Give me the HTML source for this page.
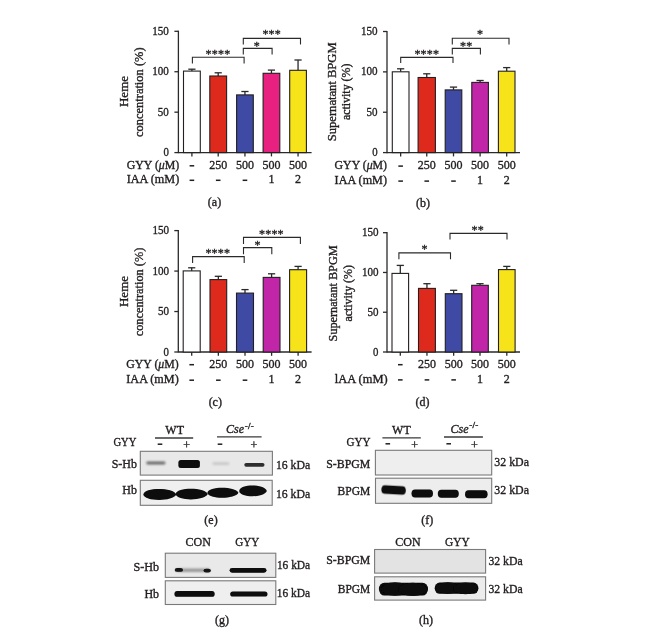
<!DOCTYPE html>
<html><head><meta charset="utf-8"><style>html,body{margin:0;padding:0;background:#fff;-webkit-font-smoothing:antialiased;width:649px;height:638px;overflow:hidden;position:relative}</style></head>
<body><div style="position:absolute;left:0;top:0;width:649px;height:638px;transform:translateZ(0)">
<svg width="649" height="638" viewBox="0 0 649 638" style="position:absolute;left:0;top:0;font-family:'Liberation Serif', serif">
<defs><filter id="bl" x="-30%" y="-80%" width="160%" height="260%"><feGaussianBlur stdDeviation="1.0"/></filter><filter id="bl2" x="-30%" y="-80%" width="160%" height="260%"><feGaussianBlur stdDeviation="0.6"/></filter></defs>
<line x1="178.40" y1="30.70" x2="178.40" y2="153.20" stroke="#2a2a2a" stroke-width="1.3"/>
<line x1="174.40" y1="152.60" x2="178.40" y2="152.60" stroke="#2a2a2a" stroke-width="1.3"/>
<text x="168.80" y="156.10" font-size="12" text-anchor="end" fill="#231f20" stroke="#231f20" stroke-width="0.35" textLength="5.4" lengthAdjust="spacingAndGlyphs">0</text>
<line x1="174.40" y1="112.17" x2="178.40" y2="112.17" stroke="#2a2a2a" stroke-width="1.3"/>
<text x="168.80" y="115.67" font-size="12" text-anchor="end" fill="#231f20" stroke="#231f20" stroke-width="0.35" textLength="11" lengthAdjust="spacingAndGlyphs">50</text>
<line x1="174.40" y1="71.73" x2="178.40" y2="71.73" stroke="#2a2a2a" stroke-width="1.3"/>
<text x="168.80" y="75.23" font-size="12" text-anchor="end" fill="#231f20" stroke="#231f20" stroke-width="0.35" textLength="16.6" lengthAdjust="spacingAndGlyphs">100</text>
<line x1="174.40" y1="31.30" x2="178.40" y2="31.30" stroke="#2a2a2a" stroke-width="1.3"/>
<text x="168.80" y="34.80" font-size="12" text-anchor="end" fill="#231f20" stroke="#231f20" stroke-width="0.35" textLength="16.6" lengthAdjust="spacingAndGlyphs">150</text>
<line x1="178.40" y1="152.60" x2="311.60" y2="152.60" stroke="#2a2a2a" stroke-width="1.3"/>
<line x1="191.90" y1="69.20" x2="191.90" y2="71.10" stroke="#2a2a2a" stroke-width="1.3"/>
<line x1="188.30" y1="69.20" x2="195.50" y2="69.20" stroke="#2a2a2a" stroke-width="1.3"/>
<rect x="183.50" y="71.10" width="16.80" height="81.50" fill="#ffffff" stroke="#231f20" stroke-width="1.1"/>
<line x1="191.90" y1="152.60" x2="191.90" y2="156.40" stroke="#2a2a2a" stroke-width="1.3"/>
<line x1="218.20" y1="72.80" x2="218.20" y2="76.00" stroke="#2a2a2a" stroke-width="1.3"/>
<line x1="214.60" y1="72.80" x2="221.80" y2="72.80" stroke="#2a2a2a" stroke-width="1.3"/>
<rect x="209.80" y="76.00" width="16.80" height="76.60" fill="#de2a1c" stroke="#231f20" stroke-width="1.1"/>
<line x1="218.20" y1="152.60" x2="218.20" y2="156.40" stroke="#2a2a2a" stroke-width="1.3"/>
<line x1="244.95" y1="91.50" x2="244.95" y2="94.90" stroke="#2a2a2a" stroke-width="1.3"/>
<line x1="241.35" y1="91.50" x2="248.55" y2="91.50" stroke="#2a2a2a" stroke-width="1.3"/>
<rect x="236.60" y="94.90" width="16.70" height="57.70" fill="#3e4aa3" stroke="#231f20" stroke-width="1.1"/>
<line x1="244.95" y1="152.60" x2="244.95" y2="156.40" stroke="#2a2a2a" stroke-width="1.3"/>
<line x1="271.45" y1="70.10" x2="271.45" y2="73.30" stroke="#2a2a2a" stroke-width="1.3"/>
<line x1="267.85" y1="70.10" x2="275.05" y2="70.10" stroke="#2a2a2a" stroke-width="1.3"/>
<rect x="263.10" y="73.30" width="16.70" height="79.30" fill="#e8207f" stroke="#231f20" stroke-width="1.1"/>
<line x1="271.45" y1="152.60" x2="271.45" y2="156.40" stroke="#2a2a2a" stroke-width="1.3"/>
<line x1="298.05" y1="60.00" x2="298.05" y2="70.30" stroke="#2a2a2a" stroke-width="1.3"/>
<line x1="294.45" y1="60.00" x2="301.65" y2="60.00" stroke="#2a2a2a" stroke-width="1.3"/>
<rect x="289.70" y="70.30" width="16.70" height="82.30" fill="#f6e31a" stroke="#231f20" stroke-width="1.1"/>
<line x1="298.05" y1="152.60" x2="298.05" y2="156.40" stroke="#2a2a2a" stroke-width="1.3"/>
<path d="M192.4 63.6 V57.3 H244.1 V63.6" fill="none" stroke="#2a2a2a" stroke-width="1.1"/>
<text x="218.00" y="57.80" font-size="12" text-anchor="middle" fill="#231f20" stroke="#231f20" stroke-width="0.35" style="letter-spacing:0.2px">****</text>
<path d="M243.3 54.5 V48.4 H272.1 V54.5" fill="none" stroke="#2a2a2a" stroke-width="1.1"/>
<text x="256.80" y="49.80" font-size="12" text-anchor="middle" fill="#231f20" stroke="#231f20" stroke-width="0.35" style="letter-spacing:0.2px">*</text>
<path d="M243.3 44.6 V38.4 H300.5 V44.6" fill="none" stroke="#2a2a2a" stroke-width="1.1"/>
<text x="271.70" y="37.90" font-size="12" text-anchor="middle" fill="#231f20" stroke="#231f20" stroke-width="0.35" style="letter-spacing:0.2px">***</text>
<text x="128.00" y="91.50" font-size="13" text-anchor="middle" fill="#231f20" stroke="#231f20" stroke-width="0.35" transform="rotate(-90 128.00 91.50)">Heme</text>
<text x="143.00" y="92.20" font-size="12.5" text-anchor="middle" fill="#231f20" stroke="#231f20" stroke-width="0.35" textLength="89.5" lengthAdjust="spacingAndGlyphs" transform="rotate(-90 143.00 92.20)">concentration (%)</text>
<text x="126.70" y="168.60" font-size="12" text-anchor="start" fill="#231f20" stroke="#231f20" stroke-width="0.35" textLength="52.6" lengthAdjust="spacingAndGlyphs">GYY (<tspan font-style="italic">μ</tspan>M)</text>
<text x="126.70" y="183.20" font-size="12" text-anchor="start" fill="#231f20" stroke="#231f20" stroke-width="0.35" textLength="52.6" lengthAdjust="spacingAndGlyphs">IAA (mM)</text>
<rect x="189.60" y="165.05" width="4.6" height="1.5" fill="#231f20"/>
<text x="218.20" y="168.60" font-size="12" text-anchor="middle" fill="#231f20" stroke="#231f20" stroke-width="0.35">250</text>
<text x="244.95" y="168.60" font-size="12" text-anchor="middle" fill="#231f20" stroke="#231f20" stroke-width="0.35">500</text>
<text x="271.45" y="168.60" font-size="12" text-anchor="middle" fill="#231f20" stroke="#231f20" stroke-width="0.35">500</text>
<text x="298.05" y="168.60" font-size="12" text-anchor="middle" fill="#231f20" stroke="#231f20" stroke-width="0.35">500</text>
<rect x="189.60" y="179.55" width="4.6" height="1.5" fill="#231f20"/>
<rect x="215.90" y="179.55" width="4.6" height="1.5" fill="#231f20"/>
<rect x="242.65" y="179.55" width="4.6" height="1.5" fill="#231f20"/>
<text x="271.45" y="183.10" font-size="12" text-anchor="middle" fill="#231f20" stroke="#231f20" stroke-width="0.35">1</text>
<text x="298.05" y="183.10" font-size="12" text-anchor="middle" fill="#231f20" stroke="#231f20" stroke-width="0.35">2</text>
<text x="214.50" y="206.00" font-size="12" text-anchor="middle" fill="#231f20" stroke="#231f20" stroke-width="0.35">(a)</text>
<line x1="387.00" y1="30.90" x2="387.00" y2="153.20" stroke="#2a2a2a" stroke-width="1.3"/>
<line x1="383.00" y1="152.60" x2="387.00" y2="152.60" stroke="#2a2a2a" stroke-width="1.3"/>
<text x="377.60" y="156.10" font-size="12" text-anchor="end" fill="#231f20" stroke="#231f20" stroke-width="0.35" textLength="5.4" lengthAdjust="spacingAndGlyphs">0</text>
<line x1="383.00" y1="112.23" x2="387.00" y2="112.23" stroke="#2a2a2a" stroke-width="1.3"/>
<text x="377.60" y="115.73" font-size="12" text-anchor="end" fill="#231f20" stroke="#231f20" stroke-width="0.35" textLength="11" lengthAdjust="spacingAndGlyphs">50</text>
<line x1="383.00" y1="71.87" x2="387.00" y2="71.87" stroke="#2a2a2a" stroke-width="1.3"/>
<text x="377.60" y="75.37" font-size="12" text-anchor="end" fill="#231f20" stroke="#231f20" stroke-width="0.35" textLength="16.6" lengthAdjust="spacingAndGlyphs">100</text>
<line x1="383.00" y1="31.50" x2="387.00" y2="31.50" stroke="#2a2a2a" stroke-width="1.3"/>
<text x="377.60" y="35.00" font-size="12" text-anchor="end" fill="#231f20" stroke="#231f20" stroke-width="0.35" textLength="16.6" lengthAdjust="spacingAndGlyphs">150</text>
<line x1="387.00" y1="152.60" x2="520.00" y2="152.60" stroke="#2a2a2a" stroke-width="1.3"/>
<line x1="400.65" y1="68.80" x2="400.65" y2="71.80" stroke="#2a2a2a" stroke-width="1.3"/>
<line x1="397.05" y1="68.80" x2="404.25" y2="68.80" stroke="#2a2a2a" stroke-width="1.3"/>
<rect x="392.30" y="71.80" width="16.70" height="80.80" fill="#ffffff" stroke="#231f20" stroke-width="1.1"/>
<line x1="400.65" y1="152.60" x2="400.65" y2="156.40" stroke="#2a2a2a" stroke-width="1.3"/>
<line x1="426.75" y1="73.80" x2="426.75" y2="77.50" stroke="#2a2a2a" stroke-width="1.3"/>
<line x1="423.15" y1="73.80" x2="430.35" y2="73.80" stroke="#2a2a2a" stroke-width="1.3"/>
<rect x="418.10" y="77.50" width="17.30" height="75.10" fill="#de2a1c" stroke="#231f20" stroke-width="1.1"/>
<line x1="426.75" y1="152.60" x2="426.75" y2="156.40" stroke="#2a2a2a" stroke-width="1.3"/>
<line x1="453.50" y1="87.10" x2="453.50" y2="89.90" stroke="#2a2a2a" stroke-width="1.3"/>
<line x1="449.90" y1="87.10" x2="457.10" y2="87.10" stroke="#2a2a2a" stroke-width="1.3"/>
<rect x="445.20" y="89.90" width="16.60" height="62.70" fill="#3e4aa3" stroke="#231f20" stroke-width="1.1"/>
<line x1="453.50" y1="152.60" x2="453.50" y2="156.40" stroke="#2a2a2a" stroke-width="1.3"/>
<line x1="480.10" y1="80.50" x2="480.10" y2="82.40" stroke="#2a2a2a" stroke-width="1.3"/>
<line x1="476.50" y1="80.50" x2="483.70" y2="80.50" stroke="#2a2a2a" stroke-width="1.3"/>
<rect x="471.80" y="82.40" width="16.60" height="70.20" fill="#c125a8" stroke="#231f20" stroke-width="1.1"/>
<line x1="480.10" y1="152.60" x2="480.10" y2="156.40" stroke="#2a2a2a" stroke-width="1.3"/>
<line x1="506.70" y1="67.60" x2="506.70" y2="71.20" stroke="#2a2a2a" stroke-width="1.3"/>
<line x1="503.10" y1="67.60" x2="510.30" y2="67.60" stroke="#2a2a2a" stroke-width="1.3"/>
<rect x="498.40" y="71.20" width="16.60" height="81.40" fill="#f6e31a" stroke="#231f20" stroke-width="1.1"/>
<line x1="506.70" y1="152.60" x2="506.70" y2="156.40" stroke="#2a2a2a" stroke-width="1.3"/>
<path d="M400.7 63 V57.4 H453 V63" fill="none" stroke="#2a2a2a" stroke-width="1.1"/>
<text x="426.80" y="58.00" font-size="12" text-anchor="middle" fill="#231f20" stroke="#231f20" stroke-width="0.35" style="letter-spacing:0.2px">****</text>
<path d="M452.3 54.6 V48.4 H480.4 V54.6" fill="none" stroke="#2a2a2a" stroke-width="1.1"/>
<text x="466.30" y="50.10" font-size="12" text-anchor="middle" fill="#231f20" stroke="#231f20" stroke-width="0.35" style="letter-spacing:0.2px">**</text>
<path d="M452.3 44.5 V38.3 H509 V44.5" fill="none" stroke="#2a2a2a" stroke-width="1.1"/>
<text x="480.20" y="38.20" font-size="12" text-anchor="middle" fill="#231f20" stroke="#231f20" stroke-width="0.35" style="letter-spacing:0.2px">*</text>
<text x="336.20" y="91.80" font-size="11.6" text-anchor="middle" fill="#231f20" stroke="#231f20" stroke-width="0.35" textLength="98.8" lengthAdjust="spacingAndGlyphs" transform="rotate(-90 336.20 91.80)">Supernatant BPGM</text>
<text x="349.60" y="91.80" font-size="11.6" text-anchor="middle" fill="#231f20" stroke="#231f20" stroke-width="0.35" textLength="56.5" lengthAdjust="spacingAndGlyphs" transform="rotate(-90 349.60 91.80)">activity (%)</text>
<text x="334.60" y="168.80" font-size="12" text-anchor="start" fill="#231f20" stroke="#231f20" stroke-width="0.35" textLength="52.4" lengthAdjust="spacingAndGlyphs">GYY (<tspan font-style="italic">μ</tspan>M)</text>
<text x="334.60" y="183.70" font-size="12" text-anchor="start" fill="#231f20" stroke="#231f20" stroke-width="0.35" textLength="52.4" lengthAdjust="spacingAndGlyphs">IAA (mM)</text>
<rect x="398.35" y="165.35" width="4.6" height="1.5" fill="#231f20"/>
<text x="426.75" y="168.90" font-size="12" text-anchor="middle" fill="#231f20" stroke="#231f20" stroke-width="0.35">250</text>
<text x="453.50" y="168.90" font-size="12" text-anchor="middle" fill="#231f20" stroke="#231f20" stroke-width="0.35">500</text>
<text x="480.10" y="168.90" font-size="12" text-anchor="middle" fill="#231f20" stroke="#231f20" stroke-width="0.35">500</text>
<text x="506.70" y="168.90" font-size="12" text-anchor="middle" fill="#231f20" stroke="#231f20" stroke-width="0.35">500</text>
<rect x="398.35" y="180.35" width="4.6" height="1.5" fill="#231f20"/>
<rect x="424.45" y="180.35" width="4.6" height="1.5" fill="#231f20"/>
<rect x="451.20" y="180.35" width="4.6" height="1.5" fill="#231f20"/>
<text x="480.10" y="183.90" font-size="12" text-anchor="middle" fill="#231f20" stroke="#231f20" stroke-width="0.35">1</text>
<text x="506.70" y="183.90" font-size="12" text-anchor="middle" fill="#231f20" stroke="#231f20" stroke-width="0.35">2</text>
<text x="423.00" y="207.00" font-size="12" text-anchor="middle" fill="#231f20" stroke="#231f20" stroke-width="0.35">(b)</text>
<line x1="178.30" y1="230.00" x2="178.30" y2="352.60" stroke="#2a2a2a" stroke-width="1.3"/>
<line x1="174.30" y1="352.00" x2="178.30" y2="352.00" stroke="#2a2a2a" stroke-width="1.3"/>
<text x="169.00" y="355.50" font-size="12" text-anchor="end" fill="#231f20" stroke="#231f20" stroke-width="0.35" textLength="5.4" lengthAdjust="spacingAndGlyphs">0</text>
<line x1="174.30" y1="311.53" x2="178.30" y2="311.53" stroke="#2a2a2a" stroke-width="1.3"/>
<text x="169.00" y="315.03" font-size="12" text-anchor="end" fill="#231f20" stroke="#231f20" stroke-width="0.35" textLength="11" lengthAdjust="spacingAndGlyphs">50</text>
<line x1="174.30" y1="271.07" x2="178.30" y2="271.07" stroke="#2a2a2a" stroke-width="1.3"/>
<text x="169.00" y="274.57" font-size="12" text-anchor="end" fill="#231f20" stroke="#231f20" stroke-width="0.35" textLength="16.6" lengthAdjust="spacingAndGlyphs">100</text>
<line x1="174.30" y1="230.60" x2="178.30" y2="230.60" stroke="#2a2a2a" stroke-width="1.3"/>
<text x="169.00" y="234.10" font-size="12" text-anchor="end" fill="#231f20" stroke="#231f20" stroke-width="0.35" textLength="16.6" lengthAdjust="spacingAndGlyphs">150</text>
<line x1="178.30" y1="352.00" x2="311.60" y2="352.00" stroke="#2a2a2a" stroke-width="1.3"/>
<line x1="191.70" y1="267.80" x2="191.70" y2="270.90" stroke="#2a2a2a" stroke-width="1.3"/>
<line x1="188.10" y1="267.80" x2="195.30" y2="267.80" stroke="#2a2a2a" stroke-width="1.3"/>
<rect x="183.20" y="270.90" width="17.00" height="81.10" fill="#ffffff" stroke="#231f20" stroke-width="1.1"/>
<line x1="191.70" y1="352.00" x2="191.70" y2="355.80" stroke="#2a2a2a" stroke-width="1.3"/>
<line x1="218.35" y1="276.30" x2="218.35" y2="279.60" stroke="#2a2a2a" stroke-width="1.3"/>
<line x1="214.75" y1="276.30" x2="221.95" y2="276.30" stroke="#2a2a2a" stroke-width="1.3"/>
<rect x="210.00" y="279.60" width="16.70" height="72.40" fill="#de2a1c" stroke="#231f20" stroke-width="1.1"/>
<line x1="218.35" y1="352.00" x2="218.35" y2="355.80" stroke="#2a2a2a" stroke-width="1.3"/>
<line x1="245.00" y1="289.60" x2="245.00" y2="293.10" stroke="#2a2a2a" stroke-width="1.3"/>
<line x1="241.40" y1="289.60" x2="248.60" y2="289.60" stroke="#2a2a2a" stroke-width="1.3"/>
<rect x="236.50" y="293.10" width="17.00" height="58.90" fill="#3e4aa3" stroke="#231f20" stroke-width="1.1"/>
<line x1="245.00" y1="352.00" x2="245.00" y2="355.80" stroke="#2a2a2a" stroke-width="1.3"/>
<line x1="271.60" y1="273.80" x2="271.60" y2="277.40" stroke="#2a2a2a" stroke-width="1.3"/>
<line x1="268.00" y1="273.80" x2="275.20" y2="273.80" stroke="#2a2a2a" stroke-width="1.3"/>
<rect x="263.20" y="277.40" width="16.80" height="74.60" fill="#c125a8" stroke="#231f20" stroke-width="1.1"/>
<line x1="271.60" y1="352.00" x2="271.60" y2="355.80" stroke="#2a2a2a" stroke-width="1.3"/>
<line x1="298.10" y1="266.40" x2="298.10" y2="269.70" stroke="#2a2a2a" stroke-width="1.3"/>
<line x1="294.50" y1="266.40" x2="301.70" y2="266.40" stroke="#2a2a2a" stroke-width="1.3"/>
<rect x="289.60" y="269.70" width="17.00" height="82.30" fill="#f6e31a" stroke="#231f20" stroke-width="1.1"/>
<line x1="298.10" y1="352.00" x2="298.10" y2="355.80" stroke="#2a2a2a" stroke-width="1.3"/>
<path d="M192.6 263.1 V256.6 H244.2 V263.1" fill="none" stroke="#2a2a2a" stroke-width="1.1"/>
<text x="217.80" y="256.80" font-size="12" text-anchor="middle" fill="#231f20" stroke="#231f20" stroke-width="0.35" style="letter-spacing:0.2px">****</text>
<path d="M243.5 254.3 V247.6 H271.8 V254.3" fill="none" stroke="#2a2a2a" stroke-width="1.1"/>
<text x="257.60" y="249.00" font-size="12" text-anchor="middle" fill="#231f20" stroke="#231f20" stroke-width="0.35" style="letter-spacing:0.2px">*</text>
<path d="M243.5 243.9 V237.4 H300.4 V243.9" fill="none" stroke="#2a2a2a" stroke-width="1.1"/>
<text x="271.40" y="238.10" font-size="12" text-anchor="middle" fill="#231f20" stroke="#231f20" stroke-width="0.35" style="letter-spacing:0.2px">****</text>
<text x="128.00" y="291.50" font-size="13" text-anchor="middle" fill="#231f20" stroke="#231f20" stroke-width="0.35" transform="rotate(-90 128.00 291.50)">Heme</text>
<text x="143.00" y="292.00" font-size="12.5" text-anchor="middle" fill="#231f20" stroke="#231f20" stroke-width="0.35" textLength="88.6" lengthAdjust="spacingAndGlyphs" transform="rotate(-90 143.00 292.00)">concentration (%)</text>
<text x="126.30" y="367.50" font-size="12" text-anchor="start" fill="#231f20" stroke="#231f20" stroke-width="0.35" textLength="52.4" lengthAdjust="spacingAndGlyphs">GYY (<tspan font-style="italic">μ</tspan>M)</text>
<text x="126.30" y="383.00" font-size="12" text-anchor="start" fill="#231f20" stroke="#231f20" stroke-width="0.35" textLength="52.4" lengthAdjust="spacingAndGlyphs">IAA (mM)</text>
<rect x="189.40" y="363.95" width="4.6" height="1.5" fill="#231f20"/>
<text x="218.35" y="367.50" font-size="12" text-anchor="middle" fill="#231f20" stroke="#231f20" stroke-width="0.35">250</text>
<text x="245.00" y="367.50" font-size="12" text-anchor="middle" fill="#231f20" stroke="#231f20" stroke-width="0.35">500</text>
<text x="271.60" y="367.50" font-size="12" text-anchor="middle" fill="#231f20" stroke="#231f20" stroke-width="0.35">500</text>
<text x="298.10" y="367.50" font-size="12" text-anchor="middle" fill="#231f20" stroke="#231f20" stroke-width="0.35">500</text>
<rect x="189.40" y="379.45" width="4.6" height="1.5" fill="#231f20"/>
<rect x="216.05" y="379.45" width="4.6" height="1.5" fill="#231f20"/>
<rect x="242.70" y="379.45" width="4.6" height="1.5" fill="#231f20"/>
<text x="271.60" y="383.00" font-size="12" text-anchor="middle" fill="#231f20" stroke="#231f20" stroke-width="0.35">1</text>
<text x="298.10" y="383.00" font-size="12" text-anchor="middle" fill="#231f20" stroke="#231f20" stroke-width="0.35">2</text>
<text x="215.30" y="405.50" font-size="12" text-anchor="middle" fill="#231f20" stroke="#231f20" stroke-width="0.35">(c)</text>
<line x1="387.00" y1="232.10" x2="387.00" y2="352.60" stroke="#2a2a2a" stroke-width="1.3"/>
<line x1="383.00" y1="352.00" x2="387.00" y2="352.00" stroke="#2a2a2a" stroke-width="1.3"/>
<text x="378.50" y="355.50" font-size="12" text-anchor="end" fill="#231f20" stroke="#231f20" stroke-width="0.35" textLength="5.4" lengthAdjust="spacingAndGlyphs">0</text>
<line x1="383.00" y1="312.23" x2="387.00" y2="312.23" stroke="#2a2a2a" stroke-width="1.3"/>
<text x="378.50" y="315.73" font-size="12" text-anchor="end" fill="#231f20" stroke="#231f20" stroke-width="0.35" textLength="11" lengthAdjust="spacingAndGlyphs">50</text>
<line x1="383.00" y1="272.47" x2="387.00" y2="272.47" stroke="#2a2a2a" stroke-width="1.3"/>
<text x="378.50" y="275.97" font-size="12" text-anchor="end" fill="#231f20" stroke="#231f20" stroke-width="0.35" textLength="16.6" lengthAdjust="spacingAndGlyphs">100</text>
<line x1="383.00" y1="232.70" x2="387.00" y2="232.70" stroke="#2a2a2a" stroke-width="1.3"/>
<text x="378.50" y="236.20" font-size="12" text-anchor="end" fill="#231f20" stroke="#231f20" stroke-width="0.35" textLength="16.6" lengthAdjust="spacingAndGlyphs">150</text>
<line x1="387.00" y1="352.00" x2="520.00" y2="352.00" stroke="#2a2a2a" stroke-width="1.3"/>
<line x1="400.30" y1="265.40" x2="400.30" y2="273.40" stroke="#2a2a2a" stroke-width="1.3"/>
<line x1="396.70" y1="265.40" x2="403.90" y2="265.40" stroke="#2a2a2a" stroke-width="1.3"/>
<rect x="392.00" y="273.40" width="16.60" height="78.60" fill="#ffffff" stroke="#231f20" stroke-width="1.1"/>
<line x1="400.30" y1="352.00" x2="400.30" y2="355.80" stroke="#2a2a2a" stroke-width="1.3"/>
<line x1="426.95" y1="283.70" x2="426.95" y2="288.40" stroke="#2a2a2a" stroke-width="1.3"/>
<line x1="423.35" y1="283.70" x2="430.55" y2="283.70" stroke="#2a2a2a" stroke-width="1.3"/>
<rect x="418.50" y="288.40" width="16.90" height="63.60" fill="#de2a1c" stroke="#231f20" stroke-width="1.1"/>
<line x1="426.95" y1="352.00" x2="426.95" y2="355.80" stroke="#2a2a2a" stroke-width="1.3"/>
<line x1="453.65" y1="290.30" x2="453.65" y2="293.70" stroke="#2a2a2a" stroke-width="1.3"/>
<line x1="450.05" y1="290.30" x2="457.25" y2="290.30" stroke="#2a2a2a" stroke-width="1.3"/>
<rect x="445.30" y="293.70" width="16.70" height="58.30" fill="#3e4aa3" stroke="#231f20" stroke-width="1.1"/>
<line x1="453.65" y1="352.00" x2="453.65" y2="355.80" stroke="#2a2a2a" stroke-width="1.3"/>
<line x1="480.00" y1="283.70" x2="480.00" y2="285.30" stroke="#2a2a2a" stroke-width="1.3"/>
<line x1="476.40" y1="283.70" x2="483.60" y2="283.70" stroke="#2a2a2a" stroke-width="1.3"/>
<rect x="471.70" y="285.30" width="16.60" height="66.70" fill="#c125a8" stroke="#231f20" stroke-width="1.1"/>
<line x1="480.00" y1="352.00" x2="480.00" y2="355.80" stroke="#2a2a2a" stroke-width="1.3"/>
<line x1="506.80" y1="266.40" x2="506.80" y2="269.60" stroke="#2a2a2a" stroke-width="1.3"/>
<line x1="503.20" y1="266.40" x2="510.40" y2="266.40" stroke="#2a2a2a" stroke-width="1.3"/>
<rect x="498.50" y="269.60" width="16.60" height="82.40" fill="#f6e31a" stroke="#231f20" stroke-width="1.1"/>
<line x1="506.80" y1="352.00" x2="506.80" y2="355.80" stroke="#2a2a2a" stroke-width="1.3"/>
<path d="M398.9 259.3 V252.9 H450.5 V259.3" fill="none" stroke="#2a2a2a" stroke-width="1.1"/>
<text x="424.50" y="252.80" font-size="12" text-anchor="middle" fill="#231f20" stroke="#231f20" stroke-width="0.35" style="letter-spacing:0.2px">*</text>
<path d="M450 239.4 V233.4 H507 V239.4" fill="none" stroke="#2a2a2a" stroke-width="1.1"/>
<text x="477.70" y="234.20" font-size="12" text-anchor="middle" fill="#231f20" stroke="#231f20" stroke-width="0.35" style="letter-spacing:0.2px">**</text>
<text x="337.20" y="293.40" font-size="11.6" text-anchor="middle" fill="#231f20" stroke="#231f20" stroke-width="0.35" textLength="96" lengthAdjust="spacingAndGlyphs" transform="rotate(-90 337.20 293.40)">Supernatant BPGM</text>
<text x="351.90" y="293.30" font-size="11.6" text-anchor="middle" fill="#231f20" stroke="#231f20" stroke-width="0.35" textLength="56.6" lengthAdjust="spacingAndGlyphs" transform="rotate(-90 351.90 293.30)">activity (%)</text>
<text x="334.70" y="382.70" font-size="12" text-anchor="start" fill="#231f20" stroke="#231f20" stroke-width="0.35" textLength="53" lengthAdjust="spacingAndGlyphs">lAA (mM)</text>
<rect x="398.00" y="363.95" width="4.6" height="1.5" fill="#231f20"/>
<text x="426.95" y="367.50" font-size="12" text-anchor="middle" fill="#231f20" stroke="#231f20" stroke-width="0.35">250</text>
<text x="453.65" y="367.50" font-size="12" text-anchor="middle" fill="#231f20" stroke="#231f20" stroke-width="0.35">500</text>
<text x="480.00" y="367.50" font-size="12" text-anchor="middle" fill="#231f20" stroke="#231f20" stroke-width="0.35">500</text>
<text x="506.80" y="367.50" font-size="12" text-anchor="middle" fill="#231f20" stroke="#231f20" stroke-width="0.35">500</text>
<rect x="398.00" y="379.15" width="4.6" height="1.5" fill="#231f20"/>
<rect x="424.65" y="379.15" width="4.6" height="1.5" fill="#231f20"/>
<rect x="451.35" y="379.15" width="4.6" height="1.5" fill="#231f20"/>
<text x="480.00" y="382.70" font-size="12" text-anchor="middle" fill="#231f20" stroke="#231f20" stroke-width="0.35">1</text>
<text x="506.80" y="382.70" font-size="12" text-anchor="middle" fill="#231f20" stroke="#231f20" stroke-width="0.35">2</text>
<text x="422.50" y="405.50" font-size="12" text-anchor="middle" fill="#231f20" stroke="#231f20" stroke-width="0.35">(d)</text>
<text x="174.70" y="433.80" font-size="12" text-anchor="middle" fill="#231f20" stroke="#231f20" stroke-width="0.35">WT</text>
<line x1="155.00" y1="438.00" x2="193.20" y2="438.00" stroke="#3a3a3a" stroke-width="1.3"/>
<text x="240.00" y="432.80" font-size="12" text-anchor="middle" fill="#231f20" stroke="#231f20" stroke-width="0.35"><tspan font-style="italic">Cse</tspan><tspan font-size="9" dy="-4.2" dx="0.8" font-weight="bold" style="letter-spacing:0.2px">-/-</tspan></text>
<line x1="217.00" y1="436.80" x2="261.60" y2="436.80" stroke="#3a3a3a" stroke-width="1.3"/>
<text x="136.40" y="445.60" font-size="12" text-anchor="end" fill="#231f20" stroke="#231f20" stroke-width="0.35" textLength="23" lengthAdjust="spacingAndGlyphs">GYY</text>
<rect x="157.70" y="443.45" width="4.6" height="1.5" fill="#231f20"/>
<rect x="217.70" y="443.45" width="4.6" height="1.5" fill="#231f20"/>
<text x="186.70" y="448.50" font-size="12" text-anchor="middle" fill="#231f20" stroke="#231f20" stroke-width="0.35">+</text>
<text x="253.90" y="448.50" font-size="12" text-anchor="middle" fill="#231f20" stroke="#231f20" stroke-width="0.35">+</text>
<text x="137.00" y="468.00" font-size="12" text-anchor="end" fill="#231f20" stroke="#231f20" stroke-width="0.35">S-Hb</text>
<rect x="140.30" y="451.30" width="132.10" height="23.80" fill="#e8e8e8" stroke="#7a7a7a" stroke-width="1.1"/>
<rect x="146.20" y="461.60" width="19.30" height="2.80" rx="1.50" ry="1.40" fill="#080808" fill-opacity="0.55" filter="url(#bl)"/>
<rect x="178.40" y="460.00" width="21.50" height="8.00" rx="2.50" ry="2.50" fill="#080808" fill-opacity="1.0" filter="url(#bl2)"/>
<rect x="212.40" y="462.30" width="17.00" height="2.60" rx="1.30" ry="1.30" fill="#080808" fill-opacity="0.14" filter="url(#bl)"/>
<rect x="244.30" y="462.90" width="20.20" height="3.80" rx="1.80" ry="1.90" fill="#080808" fill-opacity="0.8" filter="url(#bl2)"/>
<text x="275.90" y="468.70" font-size="12" text-anchor="start" fill="#231f20" stroke="#231f20" stroke-width="0.35" textLength="34.2" lengthAdjust="spacingAndGlyphs">16 kDa</text>
<text x="137.00" y="494.00" font-size="12" text-anchor="end" fill="#231f20" stroke="#231f20" stroke-width="0.35">Hb</text>
<rect x="140.30" y="480.30" width="131.90" height="25.00" fill="#efefef" stroke="#7a7a7a" stroke-width="1.1"/>
<path d="M143.30 494.50 C144.29 487.26 173.00 487.26 176.30 494.50 C173.00 501.74 144.29 501.74 143.30 494.50Z" fill="#080808" fill-opacity="1.0" filter="url(#bl2)"/>
<path d="M175.60 494.10 C176.57 487.00 204.58 487.00 207.80 494.10 C204.58 501.20 176.57 501.20 175.60 494.10Z" fill="#080808" fill-opacity="1.0" filter="url(#bl2)"/>
<path d="M207.40 492.70 C208.33 486.00 235.30 486.00 238.40 492.70 C235.30 499.40 208.33 499.40 207.40 492.70Z" fill="#080808" fill-opacity="1.0" filter="url(#bl2)"/>
<path d="M239.20 490.90 C240.03 483.80 264.04 483.80 266.80 490.90 C264.04 498.00 240.03 498.00 239.20 490.90Z" fill="#080808" fill-opacity="1.0" filter="url(#bl2)"/>
<text x="275.90" y="497.60" font-size="12" text-anchor="start" fill="#231f20" stroke="#231f20" stroke-width="0.35" textLength="34.2" lengthAdjust="spacingAndGlyphs">16 kDa</text>
<text x="211.00" y="524.00" font-size="12" text-anchor="middle" fill="#231f20" stroke="#231f20" stroke-width="0.35">(e)</text>
<text x="401.40" y="433.80" font-size="12" text-anchor="middle" fill="#231f20" stroke="#231f20" stroke-width="0.35">WT</text>
<line x1="382.40" y1="437.80" x2="420.80" y2="437.80" stroke="#3a3a3a" stroke-width="1.3"/>
<text x="464.50" y="432.60" font-size="12" text-anchor="middle" fill="#231f20" stroke="#231f20" stroke-width="0.35"><tspan font-style="italic">Cse</tspan><tspan font-size="9" dy="-4.2" dx="0.8" font-weight="bold" style="letter-spacing:0.2px">-/-</tspan></text>
<line x1="444.00" y1="437.00" x2="482.90" y2="437.00" stroke="#3a3a3a" stroke-width="1.3"/>
<text x="370.60" y="446.00" font-size="12" text-anchor="end" fill="#231f20" stroke="#231f20" stroke-width="0.35" textLength="24" lengthAdjust="spacingAndGlyphs">GYY</text>
<rect x="385.50" y="443.05" width="4.6" height="1.5" fill="#231f20"/>
<rect x="446.40" y="443.05" width="4.6" height="1.5" fill="#231f20"/>
<text x="414.60" y="448.50" font-size="12" text-anchor="middle" fill="#231f20" stroke="#231f20" stroke-width="0.35">+</text>
<text x="474.50" y="448.50" font-size="12" text-anchor="middle" fill="#231f20" stroke="#231f20" stroke-width="0.35">+</text>
<text x="370.30" y="467.50" font-size="12" text-anchor="end" fill="#231f20" stroke="#231f20" stroke-width="0.35" textLength="44" lengthAdjust="spacingAndGlyphs">S-BPGM</text>
<rect x="375.40" y="450.30" width="116.30" height="24.70" fill="#eeeeee" stroke="#7a7a7a" stroke-width="1.1"/>
<text x="494.30" y="465.80" font-size="12" text-anchor="start" fill="#231f20" stroke="#231f20" stroke-width="0.35" textLength="34.7" lengthAdjust="spacingAndGlyphs">32 kDa</text>
<text x="370.30" y="494.50" font-size="12" text-anchor="end" fill="#231f20" stroke="#231f20" stroke-width="0.35" textLength="32.7" lengthAdjust="spacingAndGlyphs">BPGM</text>
<rect x="375.50" y="478.20" width="116.20" height="25.10" fill="#ededed" stroke="#7a7a7a" stroke-width="1.1"/>
<rect x="381.40" y="485.70" width="24.40" height="8.60" rx="3.50" ry="4.30" fill="#080808" fill-opacity="1.0" filter="url(#bl2)" transform="rotate(3.2 393.60 490.00)"/>
<rect x="411.50" y="489.40" width="21.50" height="8.20" rx="3.50" ry="4.10" fill="#080808" fill-opacity="1.0" filter="url(#bl2)"/>
<rect x="437.80" y="489.80" width="21.00" height="8.00" rx="3.50" ry="4.00" fill="#080808" fill-opacity="1.0" filter="url(#bl2)"/>
<rect x="465.00" y="490.30" width="22.60" height="8.00" rx="3.50" ry="4.00" fill="#080808" fill-opacity="1.0" filter="url(#bl2)"/>
<text x="494.30" y="493.80" font-size="12" text-anchor="start" fill="#231f20" stroke="#231f20" stroke-width="0.35" textLength="34.7" lengthAdjust="spacingAndGlyphs">32 kDa</text>
<text x="427.20" y="524.00" font-size="12" text-anchor="middle" fill="#231f20" stroke="#231f20" stroke-width="0.35">(f)</text>
<text x="198.20" y="546.00" font-size="12" text-anchor="middle" fill="#231f20" stroke="#231f20" stroke-width="0.35" textLength="25.3" lengthAdjust="spacingAndGlyphs">CON</text>
<text x="247.30" y="546.30" font-size="12" text-anchor="middle" fill="#231f20" stroke="#231f20" stroke-width="0.35" textLength="24" lengthAdjust="spacingAndGlyphs">GYY</text>
<text x="159.10" y="571.40" font-size="12" text-anchor="end" fill="#231f20" stroke="#231f20" stroke-width="0.35" textLength="25.7" lengthAdjust="spacingAndGlyphs">S-Hb</text>
<rect x="165.30" y="553.20" width="110.50" height="24.20" fill="#e9e9e9" stroke="#7a7a7a" stroke-width="1.1"/>
<rect x="176.00" y="568.50" width="34.00" height="3.40" rx="1.70" ry="1.70" fill="#080808" fill-opacity="0.35" filter="url(#bl)"/>
<rect x="174.70" y="568.00" width="8.30" height="3.80" rx="2.50" ry="1.90" fill="#080808" fill-opacity="0.95" filter="url(#bl2)"/>
<rect x="203.50" y="568.70" width="7.40" height="3.80" rx="2.50" ry="1.90" fill="#080808" fill-opacity="0.95" filter="url(#bl2)"/>
<rect x="229.60" y="567.90" width="36.90" height="4.80" rx="2.40" ry="2.40" fill="#080808" fill-opacity="1.0" filter="url(#bl2)"/>
<text x="159.10" y="598.00" font-size="12" text-anchor="end" fill="#231f20" stroke="#231f20" stroke-width="0.35">Hb</text>
<rect x="165.30" y="580.80" width="110.50" height="23.70" fill="#efefef" stroke="#7a7a7a" stroke-width="1.1"/>
<rect x="174.40" y="591.00" width="40.30" height="5.80" rx="2.90" ry="2.90" fill="#080808" fill-opacity="1.0" filter="url(#bl2)"/>
<rect x="230.20" y="591.40" width="37.30" height="5.20" rx="2.60" ry="2.60" fill="#080808" fill-opacity="1.0" filter="url(#bl2)"/>
<text x="276.90" y="568.50" font-size="12" text-anchor="start" fill="#231f20" stroke="#231f20" stroke-width="0.35" textLength="33.3" lengthAdjust="spacingAndGlyphs">16 kDa</text>
<text x="276.70" y="597.20" font-size="12" text-anchor="start" fill="#231f20" stroke="#231f20" stroke-width="0.35" textLength="33.3" lengthAdjust="spacingAndGlyphs">16 kDa</text>
<text x="222.00" y="623.50" font-size="12" text-anchor="middle" fill="#231f20" stroke="#231f20" stroke-width="0.35">(g)</text>
<text x="408.00" y="546.00" font-size="12" text-anchor="middle" fill="#231f20" stroke="#231f20" stroke-width="0.35" textLength="25.4" lengthAdjust="spacingAndGlyphs">CON</text>
<text x="457.30" y="546.00" font-size="12" text-anchor="middle" fill="#231f20" stroke="#231f20" stroke-width="0.35" textLength="24.6" lengthAdjust="spacingAndGlyphs">GYY</text>
<text x="370.30" y="564.20" font-size="12" text-anchor="end" fill="#231f20" stroke="#231f20" stroke-width="0.35" textLength="44" lengthAdjust="spacingAndGlyphs">S-BPGM</text>
<rect x="374.60" y="549.50" width="111.00" height="23.60" fill="#e3e3e3" stroke="#7a7a7a" stroke-width="1.1"/>
<text x="370.30" y="592.50" font-size="12" text-anchor="end" fill="#231f20" stroke="#231f20" stroke-width="0.35" textLength="32.5" lengthAdjust="spacingAndGlyphs">BPGM</text>
<rect x="374.60" y="576.80" width="111.00" height="23.30" fill="#ececec" stroke="#7a7a7a" stroke-width="1.1"/>
<rect x="378.90" y="582.70" width="49.10" height="12.80" rx="5.50" ry="6.40" fill="#080808" fill-opacity="1.0" filter="url(#bl2)"/>
<ellipse cx="395.00" cy="589.00" rx="14.00" ry="6.70" fill="#080808" fill-opacity="1.0" filter="url(#bl2)"/>
<ellipse cx="412.75" cy="589.30" rx="14.75" ry="6.60" fill="#080808" fill-opacity="1.0" filter="url(#bl2)"/>
<rect x="434.70" y="582.60" width="43.70" height="11.20" rx="5.00" ry="5.60" fill="#080808" fill-opacity="1.0" filter="url(#bl2)"/>
<ellipse cx="447.75" cy="588.00" rx="12.25" ry="5.80" fill="#080808" fill-opacity="1.0" filter="url(#bl2)"/>
<ellipse cx="465.50" cy="588.40" rx="12.50" ry="5.80" fill="#080808" fill-opacity="1.0" filter="url(#bl2)"/>
<text x="488.40" y="565.40" font-size="12" text-anchor="start" fill="#231f20" stroke="#231f20" stroke-width="0.35" textLength="34.2" lengthAdjust="spacingAndGlyphs">32 kDa</text>
<text x="488.40" y="593.20" font-size="12" text-anchor="start" fill="#231f20" stroke="#231f20" stroke-width="0.35" textLength="34.2" lengthAdjust="spacingAndGlyphs">32 kDa</text>
<text x="426.00" y="624.00" font-size="12" text-anchor="middle" fill="#231f20" stroke="#231f20" stroke-width="0.35">(h)</text>
</svg>
</div></body></html>
